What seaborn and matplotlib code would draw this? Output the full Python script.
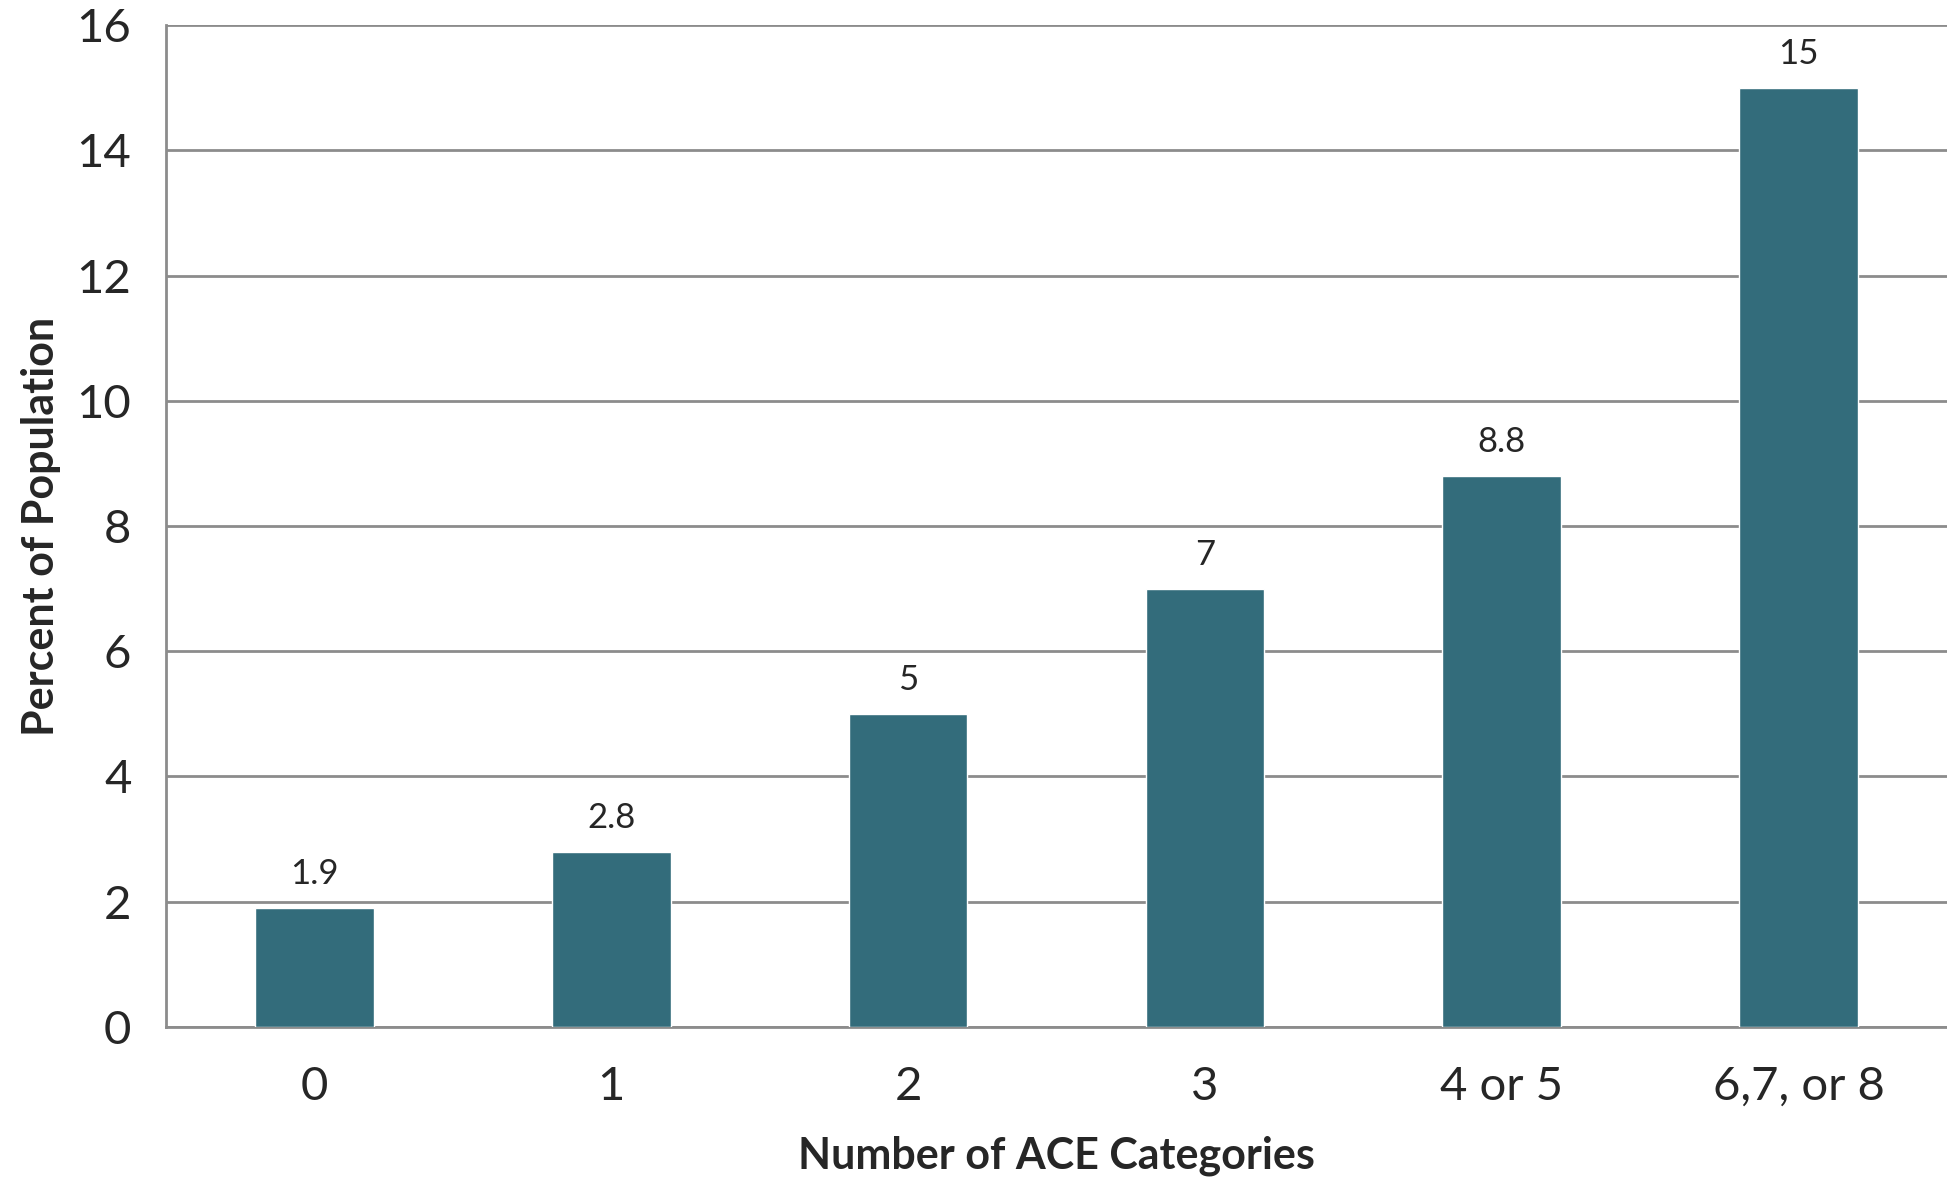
import matplotlib
matplotlib.use('Agg')
import matplotlib.pyplot as plt
import seaborn as sns
import pandas as pd
import numpy as np

sns.set_style('white')
plt.rcParams['font.family'] = ['Lato', 'DejaVu Sans']

categories = ['0', '1', '2', '3', '4 or 5', '6,7, or 8']
percent = [1.9, 2.8, 5, 7, 8.8, 15]
bar_labels = ['1.9', '2.8', '5', '7', '8.8', '15']

df = pd.DataFrame({'ACE': categories, 'Percent': percent})

fig = plt.figure(figsize=(19.47, 11.8), dpi=100)
ax = fig.add_axes([0.0853, 0.1297, 0.9147, 0.8491])

grid_color = '#8c8c8c'
sns.barplot(data=df, x='ACE', y='Percent', color='#336C7B', saturation=1,
            width=0.4, ax=ax, zorder=3)

ax.set_ylim(0, 16)
ax.set_xlim(-0.5, len(categories) - 0.5)
ax.set_yticks(np.arange(0, 17, 2))
ax.yaxis.grid(True, color=grid_color, linewidth=2)
ax.set_axisbelow(True)

for s in ['top', 'right']:
    ax.spines[s].set_visible(False)
for s in ['left', 'bottom']:
    ax.spines[s].set_color(grid_color)
    ax.spines[s].set_linewidth(2)

# category boundaries get tick marks, labels sit between them
ax.set_xticks(np.arange(-0.5, len(categories), 1), minor=True)
ax.tick_params(axis='x', which='minor', length=11, width=1.5, color=grid_color)
ax.tick_params(axis='x', which='major', length=0, pad=28, labelsize=34)
ax.tick_params(axis='y', length=11, width=1.5, color=grid_color, pad=14, labelsize=34)

for i, v in enumerate(percent):
    ax.text(i, v + 0.54, bar_labels[i], ha='center', va='center', fontsize=25)

ax.set_xlabel('Number of ACE Categories', fontsize=31, fontweight='bold', labelpad=20)
ax.set_ylabel('Percent of Population', fontsize=31, fontweight='bold', labelpad=11)

fig.savefig('out.png', dpi=100)
